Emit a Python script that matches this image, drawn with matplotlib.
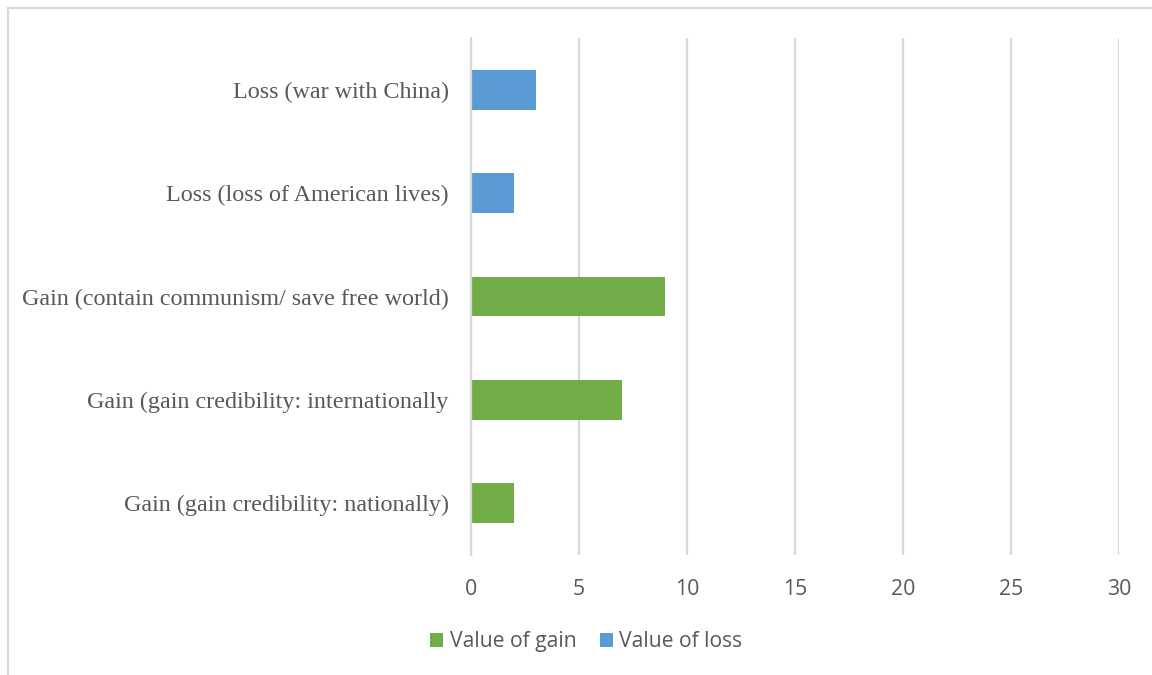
import numpy as np
import matplotlib.pyplot as plt
from matplotlib.lines import Line2D

# data (bottom to top, as drawn)
categories = [
    "Gain (gain credibility: nationally)",
    "Gain (gain credibility: internationally",
    "Gain (contain communism/ save free world)",
    "Loss (loss of American lives)",
    "Loss (war with China)",
]
value_of_gain = [2, 7, 9, 0, 0]
value_of_loss = [0, 0, 0, 2, 3]
x_ticks = [0, 5, 10, 15, 20, 25, 30]

GREEN = "#70ad47"
BLUE = "#5b9bd5"
GRID = "#d9d9d9"
TEXT = "#595959"

fig = plt.figure(figsize=(11.52, 6.75), dpi=100)
ax = fig.add_axes([0.4089, 0.1778, 0.5625, 0.7659])

y = np.arange(len(categories))
ax.barh(y, value_of_gain, height=0.385, color=GREEN, label="Value of gain", zorder=3)
ax.barh(y, value_of_loss, left=value_of_gain, height=0.385, color=BLUE,
        label="Value of loss", zorder=3)

ax.set_xlim(0, 30)
ax.set_ylim(-0.5, len(categories) - 0.5)
ax.set_xticks(x_ticks)
ax.set_yticks(y)
ax.set_yticklabels(categories, family="Liberation Serif", fontsize=17.4, color=TEXT)
for lab in ax.get_xticklabels():
    lab.set_family("Open Sans")
    lab.set_fontsize(15.3)
    lab.set_color(TEXT)
ax.tick_params(axis="both", length=0)
ax.tick_params(axis="x", pad=17)
ax.tick_params(axis="y", pad=16)
ax.grid(axis="x", color=GRID, linewidth=1.6, zorder=0)
for s in ["top", "right", "bottom"]:
    ax.spines[s].set_visible(False)
ax.spines["left"].set_color(GRID)
ax.spines["left"].set_linewidth(1.6)
ax.spines["left"].set_zorder(4)

leg = fig.legend(loc="center", bbox_to_anchor=(0.509, 0.049), ncol=2, frameon=False,
                 prop={"family": "Open Sans", "size": 15.2}, handlelength=0.62,
                 handleheight=0.62, handletextpad=0.3, columnspacing=1.1)
for t in leg.get_texts():
    t.set_color(TEXT)

# chart area border (left and top visible)
fig.add_artist(Line2D([8 / 1152, 8 / 1152], [0, 1 - 8 / 675], color=GRID,
                      linewidth=1.6, transform=fig.transFigure))
fig.add_artist(Line2D([8 / 1152, 1], [1 - 8 / 675, 1 - 8 / 675], color=GRID,
                      linewidth=1.6, transform=fig.transFigure))

fig.savefig("out.png", dpi=100)
